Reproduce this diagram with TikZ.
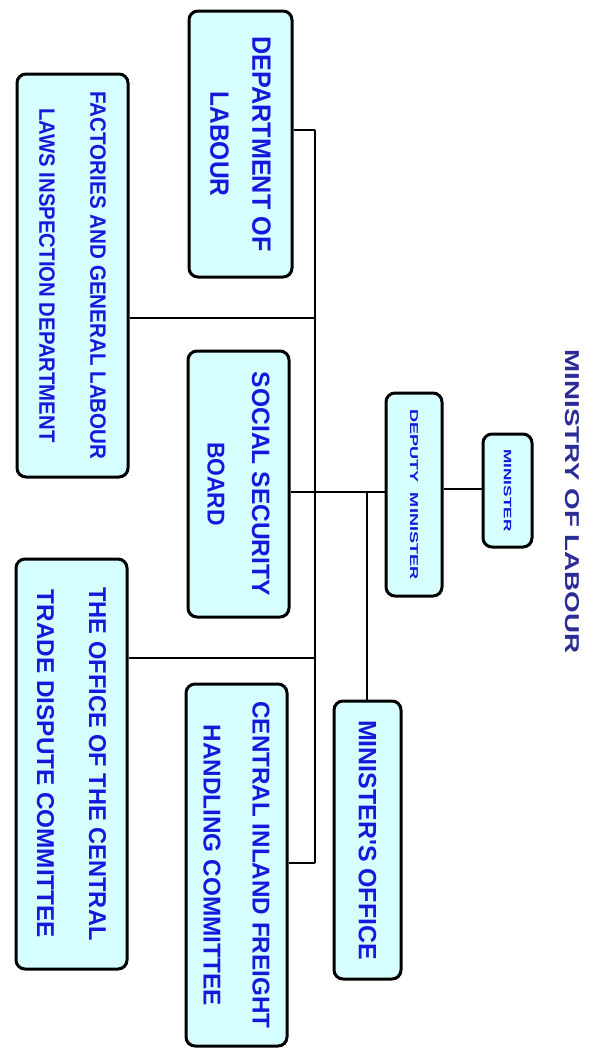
\documentclass[tikz,border=0pt]{standalone}
\usepackage{fontspec}
\setmainfont{Liberation Sans}
\usepackage{graphicx}

\definecolor{boxfill}{HTML}{D6FFFF}
\definecolor{boxtext}{HTML}{1818DC}
\definecolor{titletext}{HTML}{2C2C96}

% one line of bold text, fitted to a given length and cap height
\newcommand{\tline}[3]{\resizebox{#1pt}{#2pt}{\bfseries #3}}
% a stack of lines, turned to read from top to bottom
\newcommand{\vtext}[1]{\rotatebox{-90}{\renewcommand{\arraystretch}{0}\begin{tabular}{@{}c@{}}#1\end{tabular}}}

\tikzset{
  orgbox/.style={draw=black, line width=3pt, fill=boxfill, rounded corners=9pt,
    inner sep=0pt, text=boxtext, align=center},
  link/.style={draw=black, line width=2pt},
}

\begin{document}
\begin{tikzpicture}[x=1pt, y=-1pt]
  \useasboundingbox[fill=white] (0,0) rectangle (594,1050);

  % title
  \node[text=titletext, inner sep=0pt] (title) at (572.5,501.5)
    {\vtext{\tline{304}{14}{MINISTRY OF LABOUR}}};

  % boxes
  \node[orgbox, minimum width=49pt, minimum height=113pt] (minister) at (507.5,490.5)
    {\vtext{\tline{82}{7.5}{MINISTER}}};
  \node[orgbox, minimum width=56pt, minimum height=203pt] (deputy) at (414,494.5)
    {\vtext{\tline{170}{8}{DEPUTY\ \ MINISTER}}};
  \node[orgbox, minimum width=67pt, minimum height=278pt] (moffice) at (367.5,840)
    {\vtext{\tline{240}{17.5}{MINISTER\textquotesingle S OFFICE}}};
  \node[orgbox, minimum width=103pt, minimum height=266pt] (dept) at (240.5,144)
    {\vtext{\tline{215}{18.5}{DEPARTMENT OF}\\[23.5pt]\tline{105}{18.5}{LABOUR}}};
  \node[orgbox, minimum width=101pt, minimum height=266pt] (ssb) at (238.5,484)
    {\vtext{\tline{224}{17.5}{SOCIAL SECURITY}\\[27.7pt]\tline{84}{17}{BOARD}}};
  \node[orgbox, minimum width=101pt, minimum height=362pt] (cifh) at (236.5,865)
    {\vtext{\tline{327}{17}{CENTRAL INLAND FREIGHT}\\[32pt]\tline{281}{17}{HANDLING COMMITTEE}}};
  \node[orgbox, minimum width=111pt, minimum height=403pt] (fact) at (72.5,275.5)
    {\vtext{\tline{368}{15.5}{FACTORIES AND GENERAL LABOUR}\\[35.5pt]\tline{334}{15.5}{LAWS INSPECTION DEPARTMENT}}};
  \node[orgbox, minimum width=111pt, minimum height=410pt] (office) at (71.5,764)
    {\vtext{\tline{353}{17}{THE OFFICE OF THE CENTRAL}\\[35pt]\tline{348}{17}{TRADE DISPUTE COMMITTEE}}};

  % junctions on the spine and on the minister's line
  \coordinate (jd) at (315,130);
  \coordinate (jf) at (315,318);
  \coordinate (jo) at (315,658);
  \coordinate (jc) at (315,863);
  \coordinate (jm) at (367,492);
  \coordinate (jt) at (465,489);

  % connectors
  \draw[link] (jd) -- (jc);
  \draw[link] (jd) -- (jd -| dept.east);
  \draw[link] (jf) -- (jf -| fact.east);
  \draw[link] (jo) -- (jo -| office.east);
  \draw[link] (jc) -- (jc -| cifh.east);
  \draw[link] (jm -| ssb.east) -- (jm -| deputy.west);
  \draw[link] (jt -| deputy.east) -- (jt -| minister.west);
  \draw[link] (jm) -- (jm |- moffice.north);
\end{tikzpicture}
\end{document}
